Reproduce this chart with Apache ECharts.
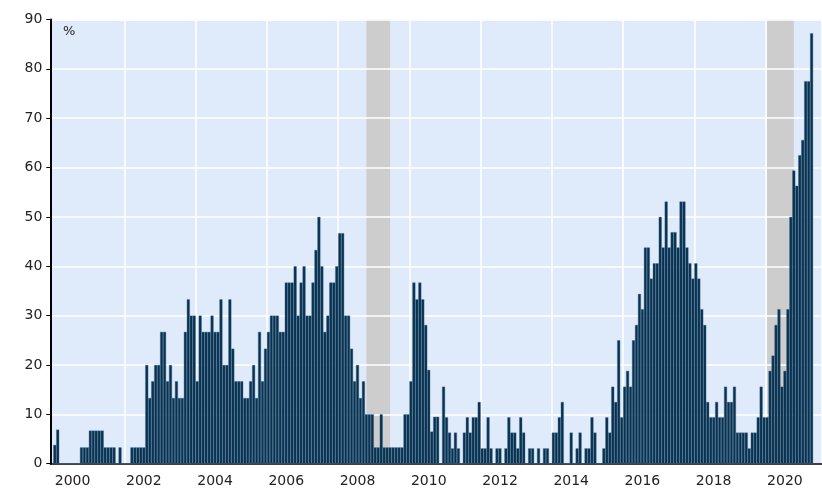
<!DOCTYPE html>
<html>
<head>
<meta charset="utf-8">
<title>share of respondents</title>
<script src="https://cdn.jsdelivr.net/npm/echarts@6/dist/echarts.min.js"></script>
<style>
  html, body { margin: 0; padding: 0; background: #fff; }
  #main { width: 822px; height: 491px; }
</style>
</head>
<body>
<div id="main"></div>
<script>
// monthly values, Jan 2000 .. Apr 2021 (%)
var v2000 = [3.8, 6.9, 0, 0, 0, 0, 0, 0, 0, 3.3, 3.3, 3.3];
var v2001 = [6.7, 6.7, 6.7, 6.7, 6.7, 3.3, 3.3, 3.3, 3.3, 0, 3.3, 0];
var v2002 = [0, 0, 3.3, 3.3, 3.3, 3.3, 3.3, 20, 13.3, 16.7, 20, 20];
var v2003 = [26.7, 26.7, 16.7, 20, 13.3, 16.7, 13.3, 13.3, 26.7, 33.3, 30, 30];
var v2004 = [16.7, 30, 26.7, 26.7, 26.7, 30, 26.7, 26.7, 33.3, 20, 20, 33.3];
var v2005 = [23.3, 16.7, 16.7, 16.7, 13.3, 13.3, 16.7, 20, 13.3, 26.7, 16.7, 23.3];
var v2006 = [26.7, 30, 30, 30, 26.7, 26.7, 36.7, 36.7, 36.7, 40, 30, 36.7];
var v2007 = [40, 30, 30, 36.7, 43.3, 50, 40, 26.7, 30, 36.7, 36.7, 40];
var v2008 = [46.7, 46.7, 30, 30, 23.3, 16.7, 20, 13.3, 16.7, 10, 10, 10];
var v2009 = [3.3, 3.3, 10, 3.3, 3.3, 3.3, 3.3, 3.3, 3.3, 3.3, 10, 10];
var v2010 = [16.7, 36.7, 33.3, 36.7, 33.3, 28.1, 19, 6.5, 9.5, 9.5, 0, 15.6];
var v2011 = [9.4, 6.3, 3.1, 6.3, 3.1, 0, 6.3, 9.4, 6.3, 9.4, 9.4, 12.5];
var v2012 = [3.1, 3.1, 9.4, 3.1, 0, 3.1, 3.1, 0, 3.1, 9.4, 6.3, 6.3];
var v2013 = [3.1, 9.4, 6.3, 0, 3.1, 3.1, 0, 3.1, 0, 3.1, 3.1, 0];
var v2014 = [6.3, 6.3, 9.4, 12.5, 0, 0, 6.3, 0, 3.1, 6.3, 0, 3.1];
var v2015 = [3.1, 9.4, 6.3, 0, 0, 3.1, 9.4, 6.3, 15.6, 12.5, 25, 9.4];
var v2016 = [15.6, 18.8, 15.6, 25, 28.1, 34.4, 31.3, 43.8, 43.8, 37.5, 40.6, 40.6];
var v2017 = [50, 43.8, 53.1, 43.8, 46.9, 46.9, 43.8, 53.1, 53.1, 43.8, 40.6, 37.5];
var v2018 = [40.6, 37.5, 31.3, 28.1, 12.5, 9.4, 9.4, 12.5, 9.4, 9.4, 15.6, 12.5];
var v2019 = [12.5, 15.6, 6.3, 6.3, 6.3, 6.3, 3.1, 6.3, 6.3, 9.4, 15.6, 9.4];
var v2020 = [9.4, 18.8, 21.9, 28.1, 31.3, 15.6, 18.8, 31.3, 50, 59.4, 56.3, 62.5];
var v2021 = [65.6, 77.5, 77.5, 87.2];

// recession periods (shaded)
var recessions = [['2008-10', '2009-06'], ['2020-01', '2020-10']];

// x axis runs Dec 1999 .. Jul 2021, empty months at both ends
var months = [];
for (var y = 1999; y <= 2021; y++) {
    for (var m = 1; m <= 12; m++) {
        if (y == 1999 && m < 12) continue;
        if (y == 2021 && m > 7) continue;
        months.push(y + '-' + (m < 10 ? '0' + m : m));
    }
}

var values = [null].concat(
    v2000, v2001, v2002, v2003, v2004, v2005, v2006, v2007, v2008, v2009, v2010,
    v2011, v2012, v2013, v2014, v2015, v2016, v2017, v2018, v2019, v2020, v2021,
    [null, null, null]
);

function evenJan(i, val) {
    return val.slice(5) == '01' && (+val.slice(0, 4)) % 2 == 0;
}

var font = 'DejaVu Sans';

var option = {
    animation: false,
    grid: {
        left: 50.3, right: -2, top: 19.5, bottom: 27.3,
        show: true,
        backgroundColor: '#dfeafb',
        borderWidth: 0
    },
    graphic: [{
        type: 'text',
        left: 63, top: 25,
        style: { text: '%', font: '13px "DejaVu Sans"', fill: '#222' }
    }],
    xAxis: [{
        type: 'category',
        data: months,
        z: 2,
        axisLine: { lineStyle: { color: '#000', width: 1.5 } },
        axisTick: {
            length: 4,
            interval: function (i, val) { return /-(01|04|07|10)$/.test(val); },
            lineStyle: { color: '#000', width: 1 }
        },
        axisLabel: {
            interval: evenJan,
            formatter: function (val) { return val.slice(0, 4); },
            align: 'left',
            margin: 11,
            fontFamily: font, fontSize: 14, color: '#222'
        },
        splitLine: {
            show: true,
            interval: function (i, val) { return evenJan(i, val) && val != '2000-01'; },
            lineStyle: { color: '#fff', width: 1.5 }
        }
    }, {
        // longer ticks at each year
        type: 'category',
        data: months,
        position: 'bottom',
        z: 2,
        axisLine: { show: false },
        axisTick: {
            length: 6,
            interval: function (i, val) { return val.slice(5) == '01'; },
            lineStyle: { color: '#000', width: 1 }
        },
        axisLabel: { show: false },
        splitLine: { show: false }
    }],
    yAxis: {
        type: 'value',
        min: 0, max: 90, interval: 10,
        z: 2,
        axisLine: { show: true, lineStyle: { color: '#000', width: 2 } },
        axisTick: { show: true, length: 4, lineStyle: { color: '#000', width: 1 } },
        axisLabel: { margin: 8, fontFamily: font, fontSize: 14, color: '#222' },
        splitLine: { lineStyle: { color: '#fff', width: 1.5 } }
    },
    series: [
        {
            // shading only
            type: 'line',
            data: [],
            z: 1,
            silent: true,
            markArea: {
                silent: true,
                itemStyle: { color: '#cdcdcd' },
                data: recessions.map(function (r) {
                    return [{ xAxis: r[0] }, { xAxis: r[1] }];
                })
            }
        },
        {
            type: 'bar',
            data: values,
            z: 3,
            barCategoryGap: '0%',
            itemStyle: {
                color: '#08324f',
                borderColor: '#41698a',
                borderWidth: 0.4
            }
        }
    ]
};

var myChart = echarts.init(document.getElementById('main'));
myChart.setOption(option);
</script>
</body>
</html>
